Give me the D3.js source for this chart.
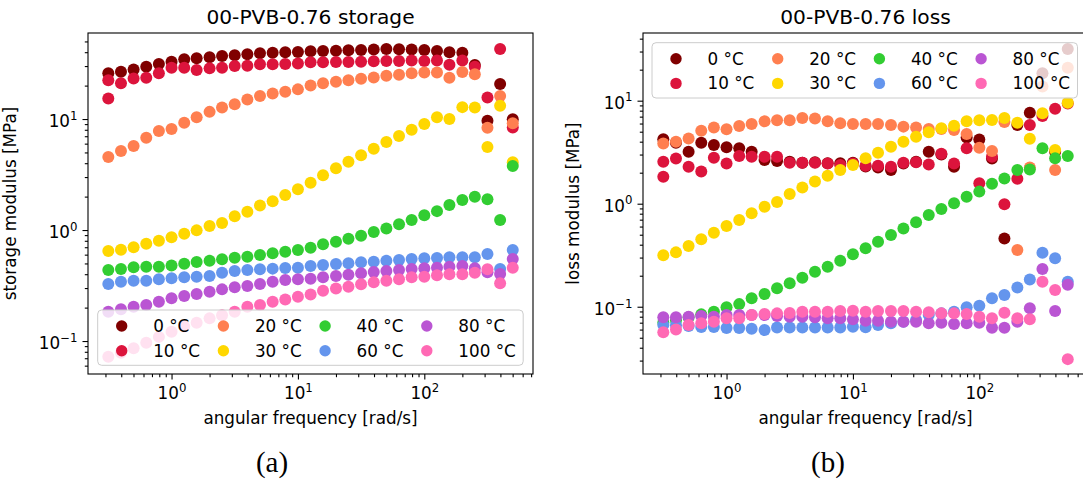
<!DOCTYPE html>
<html>
<head>
<meta charset="utf-8">
<script src="https://cdn.jsdelivr.net/npm/d3@7"></script>
<style>
  body { margin: 0; background: #fff; }
  svg { display: block; font-family: "DejaVu Sans", sans-serif; }
</style>
</head>
<body>
<svg id="fig" width="1083" height="479"></svg>
<script>
// angular frequencies [rad/s]
const freq = [0.316, 0.398, 0.501, 0.631, 0.794, 1.0, 1.26, 1.58, 2.0, 2.51, 3.16, 3.98, 5.01, 6.31, 7.94, 10.0,
  12.6, 15.8, 20.0, 25.1, 31.6, 39.8, 50.1, 63.1, 79.4, 100, 126, 158, 200, 251, 316, 398, 501];
// the 10 °C sweep has a repeated first point
const freq10 = [0.316, 0.316, 0.398, 0.501, 0.631, 0.794, 1.0, 1.26, 1.58, 2.0, 2.51, 3.16, 3.98, 5.01, 6.31, 7.94, 10.0,
  12.6, 15.8, 20.0, 25.1, 31.6, 39.8, 50.1, 63.1, 79.4, 100, 126, 158, 200, 251, 316, 398, 501];

const temps = ["0 °C", "10 °C", "20 °C", "30 °C", "40 °C", "60 °C", "80 °C", "100 °C"];
const colors = ["#800000", "#dc143c", "#ff7f50", "#ffd700", "#32cd32", "#6495ed", "#ba55d3", "#ff69b4"];

// storage modulus [MPa]
const storage0 = [25.8, 26.7, 28.0, 29.6, 31.3, 32.8, 34.5, 35.2, 36.0, 37.0, 37.5, 38.3, 39.1, 39.6, 39.9, 40.2, 40.8,
  41.0, 41.3, 41.6, 41.9, 42.2, 42.8, 42.5, 42.2, 41.9, 41.0, 39.9, 39.6, 30.6, 9.66, 20.7, 9.94];
const storage10 = [15.3, 22.4, 21.0, 23.2, 23.6, 25.8, 29.0, 29.0, 27.6, 28.6, 29.0, 30.0, 30.2, 31.1, 31.1, 31.3, 31.7, 32.4,
  32.4, 32.6, 32.6, 32.8, 33.1, 33.3, 33.3, 33.6, 33.3, 33.6, 30.8, 33.6, 29.6, 15.6, 42.8, 8.4];
const storage20 = [4.55, 5.15, 5.71, 6.79, 7.80, 8.13, 9.27, 10.4, 11.6, 12.7, 13.6, 15.0, 16.1, 17.0, 17.6, 18.5, 20.0,
  21.0, 21.7, 22.4, 23.1, 23.7, 24.5, 25.1, 25.8, 26.3, 26.3, 23.6, 26.5, 25.3, 8.35, 16.1, 9.15];
const storage30 = [0.647, 0.665, 0.698, 0.753, 0.802, 0.859, 0.927, 0.993, 1.086, 1.156, 1.33, 1.46, 1.66, 1.82, 2.07, 2.33,
  2.67, 3.11, 3.60, 4.13, 4.71, 5.41, 6.21, 7.03, 8.02, 9.02, 10.4, 10.0, 12.8, 12.7, 5.60, 13.2, 4.07];
const storage40 = [0.437, 0.446, 0.461, 0.468, 0.468, 0.478, 0.498, 0.515, 0.530, 0.545, 0.564, 0.575, 0.596, 0.617, 0.638,
  0.661, 0.693, 0.743, 0.785, 0.835, 0.889, 0.959, 1.03, 1.13, 1.23, 1.36, 1.48, 1.68, 1.86, 1.99, 1.89, 1.23, 3.78];
const storage60 = [0.327, 0.342, 0.349, 0.349, 0.360, 0.367, 0.375, 0.380, 0.386, 0.412, 0.427, 0.437, 0.443, 0.449, 0.455,
  0.458, 0.474, 0.484, 0.494, 0.501, 0.512, 0.519, 0.530, 0.537, 0.548, 0.556, 0.560, 0.568, 0.568, 0.568, 0.608, 0.446, 0.661];
const storage80 = [0.184, 0.193, 0.204, 0.211, 0.226, 0.243, 0.254, 0.265, 0.278, 0.292, 0.305, 0.313, 0.327, 0.342, 0.355,
  0.360, 0.364, 0.375, 0.386, 0.396, 0.407, 0.418, 0.427, 0.437, 0.446, 0.452, 0.458, 0.468, 0.474, 0.452, 0.416, 0.402, 0.548];
const storage100 = [0.0723, 0.0785, 0.0860, 0.0966, 0.109, 0.121, 0.135, 0.146, 0.160, 0.171, 0.184, 0.204, 0.211, 0.226,
  0.237, 0.251, 0.263, 0.284, 0.298, 0.308, 0.324, 0.338, 0.349, 0.360, 0.375, 0.380, 0.391, 0.399, 0.399, 0.412, 0.443, 0.331, 0.458];

// loss modulus [MPa]
const loss0 = [4.22, 3.91, 3.20, 3.91, 3.71, 3.53, 3.45, 3.20, 2.66, 2.60, 2.56, 2.50, 2.52, 2.47, 2.47, 2.50, 2.30, 2.25,
  2.12, 2.46, 2.55, 3.20, 3.0, 2.29, 4.4, 4.2, 2.75, 0.46, 5.8, 7.65, 18.5, 3.2, 31.8];
const loss10 = [1.83, 2.55, 2.75, 2.29, 2.05, 2.8, 2.46, 2.9, 2.86, 2.86, 2.86, 2.5, 2.5, 2.5, 2.46, 2.37, 2.46, 2.33, 2.33,
  2.29, 2.5, 2.52, 2.4, 3.05, 2.46, 3.45, 1.58, 2.86, 0.99, 1.75, 5.8, 7.1, 8.36, 9.4];
const loss20 = [3.85, 4.0, 4.3, 5.1, 5.5, 5.28, 5.68, 5.95, 6.3, 6.45, 6.45, 6.8, 6.7, 6.3, 6.04, 5.95, 5.95, 5.95, 5.8, 5.6,
  5.5, 5.3, 5.3, 5.2, 4.75, 3.5, 3.25, 6.2, 0.355, 2.25, 13.7, 2.12, 20.9];
const loss30 = [0.316, 0.337, 0.388, 0.451, 0.523, 0.607, 0.695, 0.807, 0.936, 1.04, 1.24, 1.44, 1.64, 1.87, 2.12, 2.38,
  2.76, 3.12, 3.57, 4.0, 4.47, 4.93, 5.4, 5.72, 6.3, 6.45, 6.5, 6.8, 6.1, 4.28, 7.55, 3.32, 9.57];
const loss40 = [0.070, 0.074, 0.079, 0.0843, 0.0895, 0.0986, 0.106, 0.121, 0.133, 0.151, 0.169, 0.191, 0.219, 0.244, 0.280,
  0.323, 0.369, 0.427, 0.497, 0.576, 0.659, 0.776, 0.887, 1.01, 1.17, 1.31, 1.56, 1.76, 2.12, 2.15, 3.45, 2.76, 2.9];
const loss60 = [0.0664, 0.066, 0.065, 0.0634, 0.0634, 0.062, 0.062, 0.0612, 0.0594, 0.0628, 0.0628, 0.0628, 0.0628, 0.0628,
  0.0628, 0.064, 0.0631, 0.0664, 0.069, 0.0716, 0.0743, 0.083, 0.0862, 0.0895, 0.0986, 0.102, 0.121, 0.130, 0.154, 0.184,
  0.334, 0.295, 0.175];
const loss80 = [0.0789, 0.0789, 0.080, 0.0813, 0.080, 0.083, 0.083, 0.083, 0.083, 0.0813, 0.080, 0.080, 0.0789, 0.0771, 0.0771,
  0.0755, 0.0732, 0.0732, 0.0716, 0.0716, 0.0716, 0.069, 0.070, 0.068, 0.069, 0.070, 0.0625, 0.0625, 0.0716, 0.0964, 0.232,
  0.0908, 0.163];
const loss100 = [0.0564, 0.060, 0.0664, 0.069, 0.0716, 0.0771, 0.0771, 0.083, 0.085, 0.0862, 0.087, 0.0895, 0.0895, 0.0895,
  0.091, 0.0915, 0.0895, 0.0908, 0.0908, 0.0908, 0.0895, 0.0882, 0.0862, 0.0862, 0.085, 0.080, 0.0771, 0.0875, 0.0771, 0.0755,
  0.175, 0.145, 0.031];

const storageSeries = [storage0, storage10, storage20, storage30, storage40, storage60, storage80, storage100];
const lossSeries = [loss0, loss10, loss20, loss30, loss40, loss60, loss80, loss100];

const xMajor = [1, 10, 100];
const xMinor = [0.2, 0.3, 0.4, 0.5, 0.6, 0.7, 0.8, 0.9, 2, 3, 4, 5, 6, 7, 8, 9, 20, 30, 40, 50, 60, 70, 80, 90,
  200, 300, 400, 500, 600, 700, 800, 900];
const yMajor = [0.1, 1, 10];
const yMinor = [0.02, 0.03, 0.04, 0.05, 0.06, 0.07, 0.08, 0.09, 0.2, 0.3, 0.4, 0.5, 0.6, 0.7, 0.8, 0.9,
  2, 3, 4, 5, 6, 7, 8, 9, 20, 30, 40, 50, 60, 70, 80, 90];
const supers = {"0.1": "−1", "1": "0", "10": "1", "100": "2"};

const FS = 16.8;
const svg = d3.select("#fig");
svg.append("rect").attr("width", 1083).attr("height", 479).attr("fill", "#fff");

function powLabels(sel) {
  sel.selectAll(".tick text").each(function(d) {
    const t = d3.select(this).text(null);
    t.append("tspan").text("10");
    t.append("tspan").attr("dy", "-0.62em").attr("font-size", "0.7em").text(supers[String(d)]);
  });
}

function drawPanel(p) {
  const x = d3.scaleLog().domain([Math.pow(10, -0.661), Math.pow(10, 2.86)]).range([p.left, p.left + p.w]);
  const y = d3.scaleLog().domain(p.yDomain).range([p.top + p.h, p.top]);
  const inX = v => v >= x.domain()[0] && v <= x.domain()[1];
  const inY = v => v >= y.domain()[0] && v <= y.domain()[1];
  const g = svg.append("g");

  const clipId = "clip-" + p.id;
  g.append("clipPath").attr("id", clipId)
    .append("rect").attr("x", p.left).attr("y", p.top).attr("width", p.w).attr("height", p.h);

  // data
  const pts = g.append("g").attr("clip-path", `url(#${clipId})`);
  p.series.forEach((vals, i) => {
    const xs = i === 1 ? freq10 : freq;
    pts.append("g").selectAll("circle").data(vals).join("circle")
      .attr("cx", (d, j) => x(xs[j]))
      .attr("cy", d => y(d))
      .attr("r", 6)
      .attr("fill", colors[i]);
  });

  // axes
  const bottom = g.append("g").attr("transform", `translate(0,${p.top + p.h})`);
  bottom.append("g").call(d3.axisBottom(x).tickValues(xMinor.filter(inX)).tickSize(3.2).tickFormat(""));
  bottom.append("g").call(d3.axisBottom(x).tickValues(xMajor).tickSize(5.5).tickPadding(4).tickFormat(String))
    .call(powLabels);
  const left = g.append("g").attr("transform", `translate(${p.left},0)`);
  left.append("g").call(d3.axisLeft(y).tickValues(yMinor.filter(inY)).tickSize(3.2).tickFormat(""));
  left.append("g").call(d3.axisLeft(y).tickValues(yMajor).tickSize(5.5).tickPadding(5).tickFormat(String))
    .call(powLabels);
  g.selectAll(".domain").remove();
  g.selectAll(".tick line").attr("stroke", "#000").attr("stroke-width", 1.1);
  g.selectAll(".tick text").attr("font-size", FS).attr("font-family", "DejaVu Sans").attr("fill", "#000");
  bottom.selectAll(".tick text").attr("dy", "0.95em");
  left.selectAll(".tick text").attr("dy", "0.45em");

  g.append("rect").attr("x", p.left).attr("y", p.top).attr("width", p.w).attr("height", p.h)
    .attr("fill", "none").attr("stroke", "#000").attr("stroke-width", 1.1);

  // legend
  const lg = g.append("g");
  lg.append("rect").attr("x", p.leg.x).attr("y", p.leg.y).attr("width", 425.5).attr("height", 55.3)
    .attr("rx", 4).attr("fill", "#fff").attr("fill-opacity", 0.8).attr("stroke", "#cccccc").attr("stroke-width", 1);
  temps.forEach((t, i) => {
    const col = Math.floor(i / 2), row = i % 2;
    const mx = p.leg.x + 24 + col * 101.7;
    const my = p.leg.y + 16 + row * 24.7;
    lg.append("circle").attr("cx", mx).attr("cy", my).attr("r", 5.7).attr("fill", colors[i]);
    lg.append("text").attr("x", mx + 31.5).attr("y", my).attr("dy", "0.36em")
      .attr("font-size", FS).text(t);
  });

  // titles and labels
  g.append("text").attr("x", p.left + p.w / 2).attr("y", 24).attr("text-anchor", "middle")
    .attr("font-size", 20.2).text(p.title);
  g.append("text").attr("x", p.left + p.w / 2).attr("y", 424).attr("text-anchor", "middle")
    .attr("font-size", FS).text("angular frequency [rad/s]");
  g.append("text").attr("transform", `translate(${p.ylabX},${p.top + p.h / 2}) rotate(-90)`)
    .attr("text-anchor", "middle").attr("font-size", FS).text(p.ylabel);
  g.append("text").attr("x", p.capX).attr("y", 472).attr("text-anchor", "middle")
    .attr("font-family", "Liberation Serif, serif").attr("font-size", 29).text(p.caption);
}

drawPanel({
  id: "a", left: 88, top: 33, w: 445, h: 341,
  yDomain: [Math.pow(10, -1.297), Math.pow(10, 1.775)],
  series: storageSeries, title: "00-PVB-0.76 storage", ylabel: "storage modulus [MPa]",
  ylabX: 16, leg: {x: 97.7, y: 310}, capX: 272, caption: "(a)"
});
drawPanel({
  id: "b", left: 643, top: 33, w: 445, h: 341,
  yDomain: [Math.pow(10, -1.653), Math.pow(10, 1.657)],
  series: lossSeries, title: "00-PVB-0.76 loss", ylabel: "loss modulus [MPa]",
  ylabX: 579, leg: {x: 652, y: 42.7}, capX: 828, caption: "(b)"
});
</script>
</body>
</html>
